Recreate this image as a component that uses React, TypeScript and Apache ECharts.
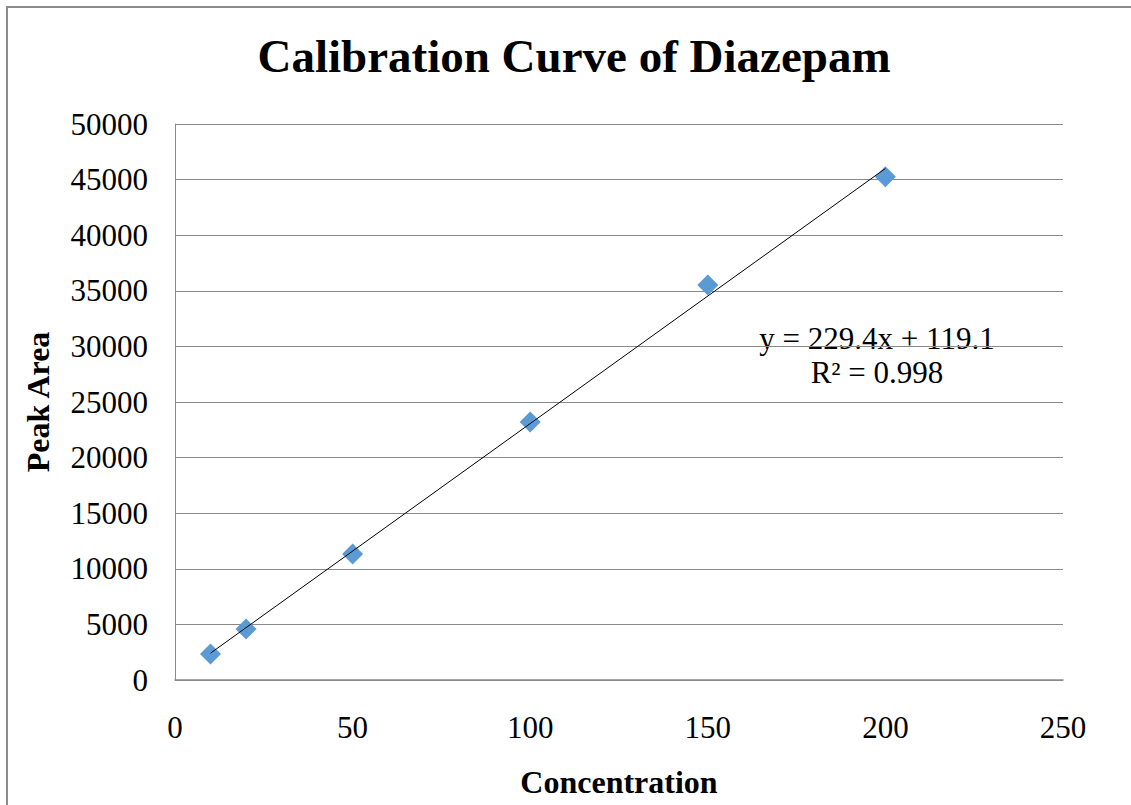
import React, { useEffect, useRef } from "react";
import * as echarts from "echarts";

const concentrations = [10, 20, 50, 100, 150, 200];
const peakAreas = [2340, 4590, 11330, 23200, 35520, 45250];
const trendX = [10, 200];
const trendY = [2413, 46000];
const xTicks = { min: 0, max: 250, interval: 50 };
const yTicks = { min: 0, max: 50000, interval: 5000 };
const titleText = "Calibration Curve of Diazepam";
const xName = "Concentration";
const yName = "Peak Area";
const equationLines = ["y = 229.4x + 119.1", "R² = 0.998"];

const FONT = '"Liberation Serif", "Times New Roman", serif';

export default function App() {
  const ref = useRef<HTMLDivElement>(null);
  useEffect(() => {
    if (!ref.current) return;
    const chart = echarts.init(ref.current, undefined, { renderer: "svg" });
    const data = concentrations.map((c, i) => [c, peakAreas[i]]);
    const trend = trendX.map((x, i) => [x, trendY[i]]);
    chart.setOption({
      animation: false,
      backgroundColor: "#ffffff",
      title: {
        text: titleText,
        left: 561,
        top: 19,
        textAlign: "center",
        textStyle: { fontFamily: FONT, fontSize: 47, fontWeight: "bold", color: "#000" },
      },
      grid: { left: 167, top: 116, width: 888, height: 556, containLabel: false },
      xAxis: {
        type: "value",
        min: xTicks.min,
        max: xTicks.max,
        interval: xTicks.interval,
        name: xName,
        nameLocation: "middle",
        nameGap: 86,
        nameTextStyle: { fontFamily: FONT, fontSize: 32, fontWeight: "bold", color: "#000" },
        axisLine: { show: true, lineStyle: { color: "#8a8a8a", width: 1.5 } },
        axisTick: { show: false },
        splitLine: { show: false },
        axisLabel: {
          fontFamily: FONT,
          fontSize: 31,
          color: "#000",
          margin: 32,
          formatter: (v: number) => String(v),
        },
      },
      yAxis: {
        type: "value",
        min: yTicks.min,
        max: yTicks.max,
        interval: yTicks.interval,
        name: yName,
        nameLocation: "middle",
        nameGap: 121,
        nameRotate: 90,
        nameTextStyle: { fontFamily: FONT, fontSize: 32, fontWeight: "bold", color: "#000" },
        axisLine: { show: true, lineStyle: { color: "#8a8a8a", width: 1 } },
        axisTick: { show: false },
        splitLine: { show: true, lineStyle: { color: "#8a8a8a", width: 1 } },
        axisLabel: {
          fontFamily: FONT,
          fontSize: 31,
          color: "#000",
          margin: 27,
          formatter: (v: number) => String(v),
        },
      },
      series: [
        {
          type: "line",
          data: trend,
          symbol: "none",
          lineStyle: { color: "#000", width: 1 },
          z: 3,
          silent: true,
        },
        {
          type: "scatter",
          data: data,
          symbol: "diamond",
          symbolSize: 21,
          itemStyle: { color: "#5b9bd5", opacity: 1 },
          z: 2,
        },
      ],
      graphic: [
        {
          type: "text",
          x: 869,
          y: 330,
          style: {
            text: equationLines[0],
            font: `31px ${FONT}`,
            fill: "#000",
            textAlign: "center",
            textVerticalAlign: "middle",
          },
        },
        {
          type: "text",
          x: 869,
          y: 364,
          style: {
            text: equationLines[1],
            font: `31px ${FONT}`,
            fill: "#000",
            textAlign: "center",
            textVerticalAlign: "middle",
          },
        },
      ],
    });
    return () => chart.dispose();
  }, []);
  return (
    <div style={{ position: "fixed", inset: 0, overflow: "hidden", background: "#fff" }}>
      <div
        style={{
          position: "absolute",
          left: 6,
          top: 6,
          width: 1300,
          height: 1000,
          borderTop: "2px solid #8c8c8c",
          borderLeft: "2px solid #8c8c8c",
        }}
      />
      <div ref={ref} style={{ position: "absolute", left: 8, top: 8, width: 1123, height: 797 }} />
    </div>
  );
}
